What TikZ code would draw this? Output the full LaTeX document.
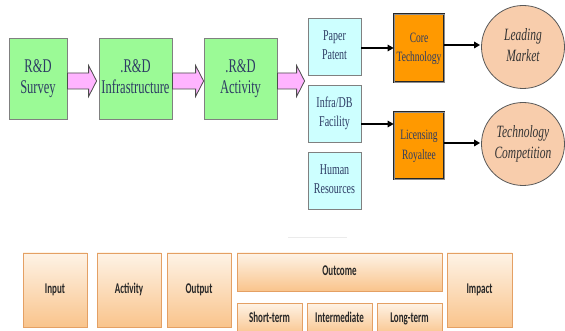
\documentclass[tikz,border=0pt]{standalone}
\usepackage{fontspec}
\usepackage{graphicx}
\setmainfont{Liberation Serif}
\newfontfamily\calfont{Carlito}
\usetikzlibrary{arrows.meta,calc,shadows}
\definecolor{txtblue}{RGB}{45,60,100}
\definecolor{boxgreen}{RGB}{155,250,150}
\definecolor{boxcyan}{RGB}{205,255,255}
\definecolor{boxorange}{RGB}{255,153,0}
\definecolor{circfill}{RGB}{248,205,172}
\definecolor{pinkfill}{RGB}{255,180,255}
\definecolor{btop}{RGB}{254,243,230}
\definecolor{bbot}{RGB}{249,196,140}
\definecolor{bdraw}{RGB}{228,160,100}
\definecolor{bshadow}{RGB}{190,130,80}
\newcommand{\vs}[4]{\scalebox{1}[#1]{\fontsize{#2}{#3}\selectfont\begin{tabular}{@{}c@{}}#4\end{tabular}}}
\tikzset{
  greenbox/.style={draw=black!50, line width=0.8pt, fill=boxgreen, inner sep=0pt, text=txtblue, minimum height=81pt},
  cyanbox/.style={draw=black!50, line width=0.8pt, fill=boxcyan, inner sep=0pt, text=txtblue, minimum width=53pt, minimum height=57pt},
  orangebox/.style={draw=black!85, line width=0.7pt, double=black!45, double distance=0.8pt, fill=boxorange, inner sep=0pt, text=txtblue, minimum width=50pt},
  circ/.style={circle, draw=black!65, line width=0.8pt, fill=circfill, inner sep=0pt, minimum size=83pt, text=black!80},
  pinkarr/.style={draw=black!70, line width=0.8pt, fill=pinkfill, line join=miter},
  blackarr/.style={draw=black, line width=1.8pt, -{Triangle[length=6pt,width=6.5pt]}},
  outbox/.style={draw=bdraw, line width=0.9pt, top color=btop, bottom color=bbot, inner sep=0pt, text=black!85,
    drop shadow={shadow xshift=0.6pt, shadow yshift=-1.4pt, fill=bshadow, opacity=0.55}},
}
\begin{document}
\begin{tikzpicture}[x=1pt,y=-1pt]
\useasboundingbox[fill=white] (0,0) rectangle (565,331);

% green boxes
\node[greenbox, minimum width=58pt] (s1) at (38,78.5) {\vs{1.55}{12.5}{13.5}{R\&D\\Survey}};
\node[greenbox, minimum width=73pt] (s2) at (135.5,78.5) {\vs{1.55}{12.5}{13.5}{.R\&D\\Infrastructure}};
\node[greenbox, minimum width=73pt] (s3) at (240.5,78.5) {\vs{1.55}{12.5}{13.5}{.R\&D\\Activity}};

% cyan boxes
\node[cyanbox] (pp) at (334.5,46.5) {\vs{1.5}{10}{12.7}{Paper\\Patent}};
\node[cyanbox] (idb) at (334.5,113.5) {\vs{1.5}{10}{12.7}{Infra/DB\\Facility}};
\node[cyanbox] (hr) at (334.5,180.5) {\vs{1.5}{10}{12.7}{Human\\Resources}};

% orange boxes
\node[orangebox, minimum height=68pt] (ct) at (419,48) {\vs{1.5}{9.5}{13.3}{Core\\Technology}};
\node[orangebox, minimum height=67pt] (lr) at (419,145.5) {\vs{1.5}{9.5}{13.3}{Licensing\\Royaltee}};

% circles
\node[circ] (lm) at (523,47) {\vs{1.5}{11.5}{14}{\itshape Leading\\\itshape Market}};
\node[circ] (tc) at (523,144) {\vs{1.5}{11.5}{14}{\itshape Technology\\\itshape Competition}};

% pink block arrows
\coordinate (t1) at ($(s2.west)+(-2,2.5)$);
\coordinate (t2) at ($(s3.west)+(0,2.5)$);
\coordinate (t3) at ($(pp.west)!0.5!(idb.west)+(-3,1)$);
\foreach \a/\b in {s1/t1, s2/t2, s3/t3}{
  \draw[pinkarr] let \p1=(\a.east), \p2=(\b) in
    (\x1,\y2-8pt) -- (\x2-8pt,\y2-8pt) -- (\x2-8pt,\y2-15.5pt) -- (\x2,\y2)
    -- (\x2-8pt,\y2+15.5pt) -- (\x2-8pt,\y2+8pt) -- (\x1,\y2+8pt) -- cycle;
}

% black arrows
\coordinate (ya) at (0,48);
\coordinate (yb) at (0,45);
\coordinate (yc) at (0,124);
\coordinate (yd) at (0,143);
\draw[blackarr] (pp.east |- ya) -- (ct.west |- ya);
\draw[blackarr] (ct.east |- yb) -- ([xshift=-1pt]lm.west |- yb);
\draw[blackarr] (idb.east |- yc) -- (lr.west |- yc);
\draw[blackarr] (lr.east |- yd) -- ([xshift=-1pt]tc.west |- yd);

% faint line
\coordinate (fl1) at (288,238);
\coordinate (fl2) at (347,238);
\draw[black!8, line width=1pt] (fl1) -- (fl2);

% bottom boxes
\node[outbox, minimum width=64pt, minimum height=74pt] (in) at (55,290) {\vs{1.65}{9}{11}{\calfont\bfseries Input}};
\node[outbox, minimum width=64pt, minimum height=74pt] (ac) at (129,290) {\vs{1.65}{9}{11}{\calfont\bfseries Activity}};
\node[outbox, minimum width=64pt, minimum height=74pt] (op) at (199,290) {\vs{1.65}{9}{11}{\calfont\bfseries Output}};
\node[outbox, minimum width=205pt, minimum height=38pt] (oc) at (339.5,272) {\vs{1.65}{9}{11}{\calfont\bfseries Outcome}};
\node[outbox, minimum width=65pt, minimum height=32pt] (st) at (269.5,319) {\vs{1.65}{9}{11}{\calfont\bfseries Short-term}};
\node[outbox, minimum width=65pt, minimum height=32pt] (im) at (339.5,319) {\vs{1.65}{9}{11}{\calfont\bfseries Intermediate}};
\node[outbox, minimum width=65pt, minimum height=32pt] (lt) at (409.5,319) {\vs{1.65}{9}{11}{\calfont\bfseries Long-term}};
\node[outbox, minimum width=65pt, minimum height=74pt] (ip) at (479.5,290) {\vs{1.65}{9}{11}{\calfont\bfseries Impact}};
\end{tikzpicture}
\end{document}
